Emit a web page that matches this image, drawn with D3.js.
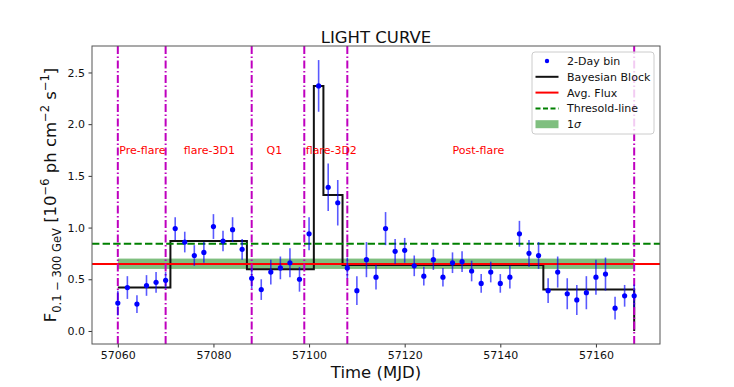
<html>
<head>
<meta charset="utf-8">
<title>Light curve</title>
<script src="https://d3js.org/d3.v7.min.js"></script>
<style>
  body { margin: 0; background: #fff; }
  text { font-family: "DejaVu Sans", sans-serif; }
</style>
</head>
<body>
<script>
// 2-day binned light curve
var mjd = [57060, 57062, 57064, 57066, 57068, 57070, 57072, 57074, 57076, 57078,
           57080, 57082, 57084, 57086, 57088, 57090, 57092, 57094, 57096, 57098,
           57100, 57102, 57104, 57106, 57108, 57110, 57112, 57114, 57116, 57118,
           57120, 57122, 57124, 57126, 57128, 57130, 57132, 57134, 57136, 57138,
           57140, 57142, 57144, 57146, 57148, 57150, 57152, 57154, 57156, 57158,
           57160, 57162, 57164, 57166, 57168];
var flux = [0.27, 0.42, 0.26, 0.44, 0.47, 0.49, 0.99, 0.86, 0.73, 0.76,
            1.01, 0.87, 0.98, 0.79, 0.51, 0.40, 0.57, 0.61, 0.66, 0.50,
            0.94, 2.37, 1.39, 1.24, 0.61, 0.39, 0.69, 0.52, 0.99, 0.77,
            0.78, 0.63, 0.53, 0.69, 0.52, 0.66, 0.67, 0.58, 0.46, 0.57,
            0.46, 0.52, 0.94, 0.75, 0.73, 0.39, 0.57, 0.36, 0.30, 0.37,
            0.52, 0.55, 0.22, 0.34, 0.34];
var fluxErr = [0.12, 0.11, 0.085, 0.10, 0.10, 0.08, 0.11, 0.10, 0.10, 0.10,
               0.12, 0.10, 0.12, 0.10, 0.10, 0.10, 0.12, 0.11, 0.14, 0.12,
               0.16, 0.25, 0.23, 0.22, 0.10, 0.14, 0.17, 0.12, 0.16, 0.12,
               0.12, 0.10, 0.09, 0.10, 0.09, 0.10, 0.10, 0.10, 0.09, 0.10,
               0.09, 0.11, 0.125, 0.13, 0.13, 0.12, 0.15, 0.15, 0.145, 0.16,
               0.17, 0.16, 0.11, 0.105, 0.11];

// bayesian blocks
var blockEdges = [57060, 57071, 57087, 57101, 57103, 57107, 57149, 57168];
var blockLevels = [0.42, 0.87, 0.596, 2.37, 1.315, 0.638, 0.40];

var avgFlux = 0.648;
var threshold = 0.844;
var sigmaLow = 0.60, sigmaHigh = 0.70;

// activity phases
var phaseLines = [57060, 57070, 57088, 57099, 57108, 57168];
var phaseNames = ["Pre-flare", "flare-3D1", "Q1", "flare-3D2", "Post-flare"];
var phaseTextX = [57060.3, 57073.8, 57091.1, 57099.3, 57130.0];
var phaseTextY = 1.75;

var xTicks = [57060, 57080, 57100, 57120, 57140, 57160];
var yTicks = [0.0, 0.5, 1.0, 1.5, 2.0, 2.5];

var W = 734, H = 387;
var m = {left: 92, right: 74, top: 46, bottom: 43};

var svg = d3.select("body").append("svg")
    .attr("width", W).attr("height", H);

var x = d3.scaleLinear().domain([57054.6, 57173.4]).range([m.left, W - m.right]);
var y = d3.scaleLinear().domain([-0.126, 2.756]).range([H - m.bottom, m.top]);

var plot = svg.append("g");

// 1 sigma band
plot.append("rect")
    .attr("x", x(57060)).attr("width", x(57168) - x(57060))
    .attr("y", y(sigmaHigh)).attr("height", y(sigmaLow) - y(sigmaHigh))
    .attr("fill", "green").attr("fill-opacity", 0.5);

// block step line
var stepPts = [];
blockLevels.forEach(function(v, i) {
    stepPts.push([blockEdges[i], v]);
    stepPts.push([blockEdges[i + 1], v]);
});
stepPts.push([blockEdges[blockEdges.length - 1], 0]);
plot.append("path")
    .attr("d", d3.line().x(function(d) { return x(d[0]); }).y(function(d) { return y(d[1]); })(stepPts))
    .attr("fill", "none").attr("stroke", "#111").attr("stroke-width", 2);

// avg flux
plot.append("line")
    .attr("x1", m.left).attr("x2", W - m.right)
    .attr("y1", y(avgFlux)).attr("y2", y(avgFlux))
    .attr("stroke", "red").attr("stroke-width", 2);

// threshold
plot.append("line")
    .attr("x1", m.left).attr("x2", W - m.right)
    .attr("y1", y(threshold)).attr("y2", y(threshold))
    .attr("stroke", "green").attr("stroke-width", 2)
    .attr("stroke-dasharray", "7.4,3.2");

// phase boundaries
plot.selectAll(".vl").data(phaseLines).enter().append("line")
    .attr("x1", function(d) { return x(d); }).attr("x2", function(d) { return x(d); })
    .attr("y1", m.top).attr("y2", H - m.bottom)
    .attr("stroke", "#bf00bf").attr("stroke-width", 2)
    .attr("stroke-dasharray", "8,2.5,1.5,2.5");

// error bars and points
plot.selectAll(".eb").data(mjd).enter().append("line")
    .attr("x1", function(d) { return x(d); }).attr("x2", function(d) { return x(d); })
    .attr("y1", function(d, i) { return y(flux[i] - fluxErr[i]); })
    .attr("y2", function(d, i) { return y(flux[i] + fluxErr[i]); })
    .attr("stroke", "blue").attr("stroke-opacity", 0.65).attr("stroke-width", 1.6);
plot.selectAll(".pt").data(mjd).enter().append("circle")
    .attr("cx", function(d) { return x(d); })
    .attr("cy", function(d, i) { return y(flux[i]); })
    .attr("r", 2.6).attr("fill", "blue");

// phase names
plot.selectAll(".pn").data(phaseNames).enter().append("text")
    .attr("x", function(d, i) { return x(phaseTextX[i]); })
    .attr("y", y(phaseTextY) + 4)
    .attr("fill", "red").attr("font-size", 11)
    .text(function(d) { return d; });

// axes
var xAxis = svg.append("g").attr("transform", "translate(0," + (H - m.bottom) + ")")
    .call(d3.axisBottom(x).tickValues(xTicks).tickFormat(d3.format("d")).tickSize(3.5).tickPadding(3.5));
var yAxis = svg.append("g").attr("transform", "translate(" + m.left + ",0)")
    .call(d3.axisLeft(y).tickValues(yTicks).tickFormat(d3.format(".1f")).tickSize(3.5).tickPadding(3.5));
[xAxis, yAxis].forEach(function(a) {
    a.select(".domain").remove();
    a.selectAll("text").attr("font-size", 11).attr("fill", "#111")
        .attr("font-family", "DejaVu Sans, sans-serif");
    a.selectAll("line").attr("stroke", "#333");
});

// frame
svg.append("rect")
    .attr("x", m.left).attr("y", m.top)
    .attr("width", W - m.left - m.right).attr("height", H - m.top - m.bottom)
    .attr("fill", "none").attr("stroke", "#555").attr("stroke-width", 1);

// title
svg.append("text").attr("x", (m.left + W - m.right) / 2).attr("y", 43)
    .attr("text-anchor", "middle").attr("font-size", 16.5).attr("fill", "#111")
    .text("LIGHT CURVE");

svg.append("text").attr("x", (m.left + W - m.right) / 2).attr("y", 378)
    .attr("text-anchor", "middle").attr("font-size", 16.5).attr("fill", "#111")
    .text("Time (MJD)");

// y label with sub/superscripts
var yl = svg.append("text")
    .attr("transform", "translate(56," + ((m.top + H - m.bottom) / 2) + ") rotate(-90)")
    .attr("text-anchor", "middle").attr("font-size", 16.5).attr("fill", "#111");
var parts = [
    ["F", 0], ["0.1 \u2212 300 GeV", 4.5], [" [10", 0], ["\u22126", -7],
    [" ph cm", 0], ["\u22122", -7], [" s", 0], ["\u22121", -7], ["]", 0]
];
var cur = 0;
parts.forEach(function(p) {
    var small = p[1] !== 0;
    yl.append("tspan").attr("dy", p[1] - cur)
        .attr("font-size", small ? 11.5 : 16.5)
        .text(p[0]);
    cur = p[1];
});

// legend
var lg = svg.append("g").attr("transform", "translate(532,52)");
lg.append("rect").attr("width", 122).attr("height", 82).attr("rx", 3)
    .attr("fill", "white").attr("fill-opacity", 0.8)
    .attr("stroke", "#ccc").attr("stroke-width", 1);
var labels = ["2-Day bin", "Bayesian Block", "Avg. Flux", "Thresold-line", "1\u03c3"];
labels.forEach(function(t, i) {
    var yy = 9 + i * 15.8;
    if (i === 0) {
        lg.append("circle").attr("cx", 15).attr("cy", yy).attr("r", 2.2).attr("fill", "blue");
    } else if (i === 4) {
        lg.append("rect").attr("x", 3.5).attr("y", yy - 4).attr("width", 23).attr("height", 8)
            .attr("fill", "green").attr("fill-opacity", 0.5);
    } else {
        var ln = lg.append("line").attr("x1", 3.5).attr("x2", 26.5).attr("y1", yy).attr("y2", yy)
            .attr("stroke-width", 2)
            .attr("stroke", ["", "#111", "red", "green"][i]);
        if (i === 3) ln.attr("stroke-dasharray", "5,2.5");
    }
    var tx = lg.append("text").attr("x", 35).attr("y", yy + 4).attr("font-size", 11).attr("fill", "#111");
    if (i === 4) {
        tx.text("1");
        tx.append("tspan").attr("font-style", "italic").text("\u03c3");
    } else {
        tx.text(t);
    }
});
</script>
</body>
</html>
